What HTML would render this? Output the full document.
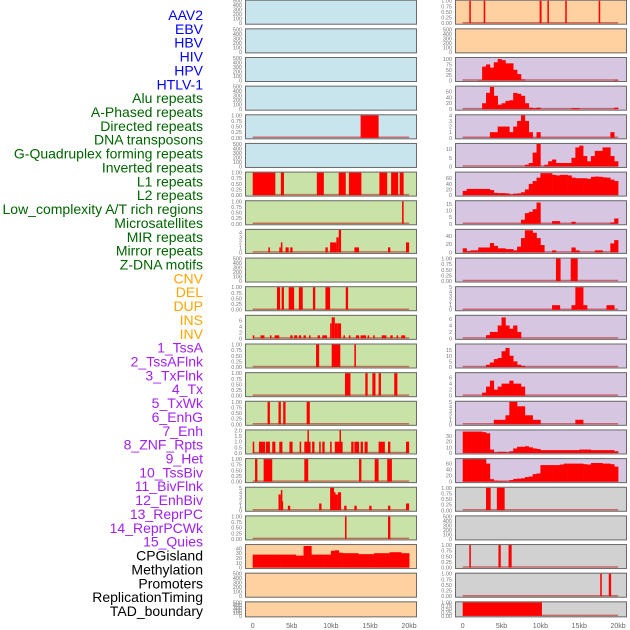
<!DOCTYPE html>
<html><head><meta charset="utf-8"><style>
html,body{margin:0;padding:0;background:#fff;width:630px;height:630px;overflow:hidden}
svg{display:block}
</style></head><body>
<svg id="chart" width="630" height="630" xmlns="http://www.w3.org/2000/svg"></svg>
<script>
// ---------- data ----------
const trackLabels = ["AAV2","EBV","HBV","HIV","HPV","HTLV-1","Alu repeats","A-Phased repeats","Directed repeats","DNA transposons","G-Quadruplex forming repeats","Inverted repeats","L1 repeats","L2 repeats","Low_complexity A/T rich regions","Microsatellites","MIR repeats","Mirror repeats","Z-DNA motifs","CNV","DEL","DUP","INS","INV","1_TssA","2_TssAFlnk","3_TxFlnk","4_Tx","5_TxWk","6_EnhG","7_Enh","8_ZNF_Rpts","9_Het","10_TssBiv","11_BivFlnk","12_EnhBiv","13_ReprPC","14_ReprPCWk","15_Quies","CPGisland","Methylation","Promoters","ReplicationTiming","TAD_boundary"];
const labelGroups = ["virus","virus","virus","virus","virus","virus","rep","rep","rep","rep","rep","rep","rep","rep","rep","rep","rep","rep","rep","cnv","cnv","cnv","cnv","cnv","chrom","chrom","chrom","chrom","chrom","chrom","chrom","chrom","chrom","chrom","chrom","chrom","chrom","chrom","chrom","other","other","other","other","other"];
const xTicks = [0,5,10,15,20];
const xTickLabels = ["0","5kb","10kb","15kb","20kb"];

const t500 = [0,100,200,300,400,500];
const t01 = [0,0.25,0.5,0.75,1];
const t01Labels = ["0.00","0.25","0.50","0.75","1.00"];
const t0to4 = [0,1,2,3,4];
const t0to5 = [0,1,2,3,4,5];
const t0to6 = [0,2,4,6];
const t0to2 = [0,0.5,1,1.5,2];
const t0to2Labels = ["0.0","0.5","1.0","1.5","2.0"];
const t0to40 = [0,10,20,30,40];
const t0to100 = [0,25,50,75,100];
const t0to60 = [0,20,40,60];
const t0to10 = [0,5,10];
const t0to15 = [0,5,10,15];
const t0to40b = [0,20,40];
const t0to30 = [0,10,20,30];

// left column segments [startKb, endKb, value]
const segL4 = [[13.8,16.1,1]];
const segL6 = [[0,2.9,1],[3.6,4.0,1],[8.2,9.1,1],[11.0,11.9,1],[12.3,13.9,1],[16.2,17.2,1],[17.7,18.6,1],[18.8,19.3,1]];
const segL7 = [[19.1,19.3,1]];
const segL8 = [[2.0,2.2,1],[3.4,3.6,1],[3.6,3.8,2],[4.2,4.6,1],[4.8,5.1,1],[9.3,9.6,1],[9.9,10.7,2],[10.7,11.0,3],[11.0,11.3,4.5],[13.0,13.6,1],[17.3,17.6,1],[19.6,20,2]];
const segL10 = [[3.1,3.5,1],[3.7,4.0,1],[4.6,5.3,1],[5.9,6.4,1],[7.7,8.0,1],[9.3,9.9,1],[11.9,12.2,1]];
const segL11 = [[0,0.2,1],[1.0,1.5,1],[2.2,2.4,1],[2.8,3.4,1],[4.8,5.1,1],[5.3,5.7,1],[5.9,6.2,1],[6.5,6.8,1],[7.2,7.4,1],[8.3,8.6,1],[8.9,9.5,1],[9.9,10.1,5],[10.1,10.5,7],[10.5,10.8,5],[10.8,11.3,5],[11.6,11.8,1],[12.3,12.5,1],[13.2,13.6,1],[13.8,14.5,1],[14.7,14.9,1],[15.4,15.6,1],[16.5,17.1,1],[17.6,17.9,1],[18.4,18.6,1],[19.0,19.5,1]];
const segL12 = [[8.1,8.5,1],[10.1,11.2,1],[13.0,13.2,1]];
const segL13 = [[11.8,12.5,1],[14.4,14.7,1],[15.3,15.7,1],[16.1,16.4,1],[18.1,18.5,1]];
const segL14 = [[1.9,2.2,1],[3.3,3.6,1],[3.9,4.2,1],[6.9,7.3,1]];
const segL15 = [[0,0.2,1],[0.8,1.6,1],[1.7,2.2,1],[2.5,2.9,1],[3.4,3.8,1],[4.7,5.1,1],[6.0,6.2,1],[6.6,7.4,1],[7.0,7.1,2],[7.6,7.9,1],[8.5,8.7,1],[8.9,9.2,1],[9.9,10.1,1],[10.5,11.5,1],[11.1,11.2,2],[12.6,12.9,1],[13.0,13.6,1],[13.8,14.1,1],[14.3,14.7,1],[16.1,16.9,1],[17.3,17.6,1],[19.6,20,1]];
const segL16 = [[0.3,0.6,1],[1.4,2.5,1],[6.6,7.1,1],[13.6,13.9,1],[15.6,16.1,1],[17.2,17.8,1]];
const segL17 = [[3.3,3.6,3.5],[3.6,3.7,4.5],[3.7,3.85,2],[4.5,4.8,1],[8.5,8.8,1.5],[9.9,10.4,5],[10.4,10.5,4],[10.5,10.9,3.5],[10.9,11.3,4],[11.7,12.0,1],[13.0,13.3,1],[14.9,15.2,1],[17.3,17.6,1],[19.6,20,1.5]];
const segL18 = [[11.8,12.0,1],[17.3,17.6,1]];
// bins of 0.5kb
const binL19 = [27,27,27,27,27,27,27,27,27,27,27,25,25,45,45,27,27,27,27,27,35,36,31,30,30,30,30,28,28,28,28,30,30,30,30,32,32,32,30,30];

// right column
const segR0 = [[0.85,1.0,1],[2.7,2.9,1],[9.9,10.15,1],[10.9,11.05,1],[13.2,13.35,1],[17.5,17.7,1]];
const binR2 = [0,0,0,0,2,65,75,60,85,100,95,80,80,50,30,5,0,0,0,0,0,0,0,0,0,0,0,0,0,0,0,0,0,0,0,0,0,0,0,3];
const binR3 = [0,0,0,0,0,20,55,75,45,15,20,28,30,55,52,45,20,5,3,5,0,0,0,0,0,0,0,0,3,3,0,0,0,0,0,0,0,0,0,5];
const binR4 = [0,0,0,0,0,0,0,1,1,2,2,2,1,2,3,4,3,1,0,1,0,0,0,0,0,0,0,0,0,0,0,0,0,0,0,0,0,0,1,0];
const binR5 = [0,0,0,0,0,0,0,0,0,0,0,0,0,0,0,0,1,2,8,13,0,1,3,4,2,2,2,2,5,11,12,6,3,6,9,9,11,11,6,3];
const binR6 = [15,22,22,22,22,22,22,18,8,7,7,6,2,5,6,10,20,40,50,62,78,78,78,72,70,72,72,70,62,60,60,60,58,65,66,65,63,62,55,50];
const binR7 = [0,0,0,0,0,0,0,0,0,0,0,0,0,0,0,3,8,9,11,16,0,0,0,2,2,0,0,0,1.5,0,0,0,0,0,0,0,0,0,1,4];
const binR8 = [10,3,5,5,12,12,12,23,16,10,10,8,8,5,14,35,54,54,48,35,18,0,0,5,0,0,0,0,12,5,0,0,0,0,5,5,0,0,22,30];
const segR9 = [[12.0,12.6,1],[13.9,14.8,1]];
const binR10 = [0,0,0,0,0,0,0,0,0,0,0,0,0,0,0,0,0,0,0,0,0,0,0,1,1,0,0,0,1,5,5,1,0,0,0,0,0,1,1,0];
const binR11 = [0,0,0,0,0,0,1,2,2,4,6.5,4,3,4,2,0,0,0,0,0,0,0,0,0,0,0,0,0,0,0,0,0,0,0,0,0,0,0,0,0];
const binR12 = [0,0,0,0,0,0,2,4,7,8,14,17,10,5,2,1,0,0,0,0,0,0,0,0,0,0,0,0,0,0,0,0,0,0,0,0,0,0,0,0];
const binR13 = [0,0,0,0,0,1,3,5,2,3,4,4,5,4,4,3,0,0,0,0,0,0,0,0,0,0,0,0,0,0,0,0,0,0,0,0,0,0,0,0];
const binR14 = [0,0,0,0,0,0,0,0,1,1,1,2,5,5,4,4,2,2,1,1,0,0,0,0,0,0,0,0,0,1,1,0,0,0,0,0,0,0,0,0];
const binR15 = [38,38,38,38,38,37,35,6,1,2,2,1,3,8,11,11,12,10,8,7,5,5,5,5,5,5,5,5,5,5,6,6,6,5,5,5,5,5,5,3];
const binR16 = [75,75,75,75,75,75,60,8,3,2,2,1,5,9,10,11,15,17,25,27,55,55,55,55,55,57,60,60,60,60,60,58,57,62,62,62,60,60,58,50];
const segR17 = [[3.0,3.6,1],[4.4,5.4,1]];
const segR19 = [[0.85,1.05,1],[4.6,4.9,1],[5.9,6.3,1]];
const segR20 = [[17.7,17.9,1],[18.8,19.1,1]];
const segR21 = [[0,10.2,1]];

// ---------- layout ----------
const BG = {blue:"#c8e4ec",orange:"#ffd1a1",purple:"#d6c6e2",green:"#c9e2a7",gray:"#d1d1d1"};
const LCOL = {virus:"#0000ff",rep:"#006400",cnv:"#ffa500",chrom:"#a020f0",other:"#000"};
const left = [
 {bg:"blue"},{bg:"blue"},{bg:"blue"},{bg:"blue"},
 {bg:"blue",seg:segL4,t:t01,tl:t01Labels,ym:1},
 {bg:"blue"},
 {bg:"green",seg:segL6,t:t01,tl:t01Labels,ym:1},
 {bg:"green",seg:segL7,t:t01,tl:t01Labels,ym:1},
 {bg:"green",seg:segL8,t:t0to4,ym:4.5},
 {bg:"green"},
 {bg:"green",seg:segL10,t:t01,tl:t01Labels,ym:1},
 {bg:"green",seg:segL11,t:t0to6,ym:7.5},
 {bg:"green",seg:segL12,t:t01,tl:t01Labels,ym:1},
 {bg:"green",seg:segL13,t:t01,tl:t01Labels,ym:1},
 {bg:"green",seg:segL14,t:t01,tl:t01Labels,ym:1},
 {bg:"green",seg:segL15,t:t0to2,tl:t0to2Labels,ym:2},
 {bg:"green",seg:segL16,t:t01,tl:t01Labels,ym:1},
 {bg:"green",seg:segL17,t:t0to5,ym:5},
 {bg:"green",seg:segL18,t:t01,tl:t01Labels,ym:1},
 {bg:"orange",bin:binL19,t:t0to40,ym:47},
 {bg:"orange"},{bg:"orange"}
];
const right = [
 {bg:"orange",seg:segR0,t:t01,tl:t01Labels,ym:1},
 {bg:"orange"},
 {bg:"purple",bin:binR2,t:t0to100,ym:105},
 {bg:"purple",bin:binR3,t:t0to60,ym:76},
 {bg:"purple",bin:binR4,t:t0to4,ym:4},
 {bg:"purple",bin:binR5,t:t0to10,ym:13},
 {bg:"purple",bin:binR6,t:t0to60,ym:80},
 {bg:"purple",bin:binR7,t:t0to15,ym:17},
 {bg:"purple",bin:binR8,t:t0to40b,ym:55},
 {bg:"purple",seg:segR9,t:t01,tl:t01Labels,ym:1},
 {bg:"purple",bin:binR10,t:t0to5,ym:5},
 {bg:"purple",bin:binR11,t:t0to6,ym:7},
 {bg:"purple",bin:binR12,t:t0to15,ym:20},
 {bg:"purple",bin:binR13,t:t0to6,ym:7.5},
 {bg:"purple",bin:binR14,t:t0to5,ym:5},
 {bg:"purple",bin:binR15,t:t0to30,ym:40},
 {bg:"purple",bin:binR16,t:t0to60,ym:75},
 {bg:"gray",seg:segR17,t:t01,tl:t01Labels,ym:1},
 {bg:"gray"},
 {bg:"gray",seg:segR19,t:t01,tl:t01Labels,ym:1},
 {bg:"gray",seg:segR20,t:t01,tl:t01Labels,ym:1},
 {bg:"gray",seg:segR21,t:t01,tl:t01Labels,ym:1}
];

const NS = "http://www.w3.org/2000/svg";
const svg = document.getElementById("chart");
function mk(tag, attrs, parent){const e=document.createElementNS(NS,tag);for(const k in attrs)e.setAttribute(k,attrs[k]);(parent||svg).appendChild(e);return e;}

// labels
trackLabels.forEach((name,i)=>{
  const t = mk("text",{x:203,y:15+13.86*i+5,"text-anchor":"end","font-size":"14","font-family":"Liberation Sans, sans-serif",fill:LCOL[labelGroups[i]]});
  
  
  t.textContent = name;
});

const cols = [
  {tracks:left, px0:245, pw:172, x0:252.7, sx:7.82},
  {tracks:right, px0:455, pw:172, x0:462.7, sx:7.77}
];
function rowTop(i){return i*28.65-0.3;}
function rowH(i){return i===21?16:25;}

cols.forEach((c,ci)=>{
  const X = kb => c.x0 + kb*c.sx;
  c.tracks.forEach((tr,i)=>{
    const top=rowTop(i), h=rowH(i);
    const g = mk("g",{});
    
    
    const bg = mk("rect",{x:c.px0,y:top,width:c.pw,height:h,fill:BG[tr.bg],stroke:"none"},g);
    
    
    const ybot = top+h-1.5, ih = h-2.5;
    const ym = tr.ym || 500;
    const Y = v => ybot - (v/ym)*ih;
    const ticks = tr.t || t500;
    ticks.forEach((tv,k)=>{
      const lbl = tr.tl ? tr.tl[k] : String(tv);
      const tt = mk("text",{x:c.px0-3,y:Y(tv)+2,"text-anchor":"end","font-size":"5.5","font-family":"Liberation Sans, sans-serif",fill:"#777"},g);
      
      
      tt.textContent = lbl;
    });
    if(tr.seg || tr.bin){
      const base = mk("line",{x1:X(0),x2:X(20),y1:ybot-0.5,y2:ybot-0.5,stroke:"rgba(190,20,20,0.55)","stroke-width":"1.5"},g);
      
      
    }
    if(tr.seg){
      tr.seg.forEach(s=>{
        const x1=X(s[0]), w=Math.max(1.5,X(s[1])-x1);
        const r = mk("rect",{x:x1,y:Y(s[2]),width:w,height:ybot-Y(s[2]),fill:"#ff0000"},g);
        
        
      });
    }
    if(tr.bin){
      tr.bin.forEach((v,k)=>{
        if(v<=0) return;
        const x1=X(k*0.5), x2=X(k*0.5+0.5);
        const r = mk("rect",{x:x1,y:Y(v),width:x2-x1+0.3,height:ybot-Y(v),fill:"#ff0000"},g);
        
        
      });
    }
    const border = mk("rect",{x:c.px0+0.5,y:top+0.5,width:c.pw-1,height:h-1,fill:"none",stroke:"#6a6a6a","stroke-width":"1"},g);
    
    
  });
  xTicks.forEach((kb,k)=>{
    const t = mk("text",{x:X(kb),y:628,"text-anchor":"middle","font-size":"7","font-family":"Liberation Sans, sans-serif",fill:"#666"});
    
    
    t.textContent = xTickLabels[k];
  });
});
</script>
</body></html>
